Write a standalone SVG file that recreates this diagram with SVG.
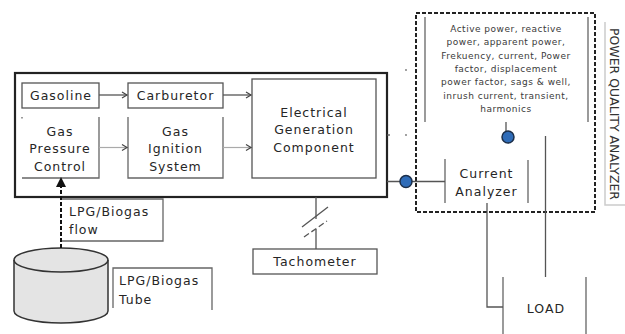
<svg xmlns="http://www.w3.org/2000/svg" width="625" height="334" viewBox="0 0 625 334">
<style>
  .t{font-family:"DejaVu Sans","Liberation Sans",sans-serif;font-size:12.5px;fill:#262626;letter-spacing:1px}
  .s{font-family:"DejaVu Sans","Liberation Sans",sans-serif;font-size:9px;fill:#3a3a3a;letter-spacing:0.5px}
  .v{font-family:"DejaVu Sans","Liberation Sans",sans-serif;font-size:11.5px;fill:#333}
  .box{fill:none;stroke:#555;stroke-width:1.3}
  .br{fill:none;stroke:#666;stroke-width:1.3}
  .lt{fill:none;stroke:#aaa;stroke-width:1.2}
  .ln{fill:none;stroke:#555;stroke-width:1.3}
  .dot{fill:#2f6cb8;stroke:#1c2f4a;stroke-width:1.5}
</style>
<defs>
  <marker id="open" markerWidth="8" markerHeight="8" refX="6" refY="4" orient="auto" markerUnits="userSpaceOnUse">
    <path d="M1,1 L6,4 L1,7" fill="none" stroke="#444" stroke-width="1.2"/>
  </marker>
</defs>

<g id="main-system">
  <rect x="15" y="73" width="372" height="124" fill="none" stroke="#222" stroke-width="2.2"/>
</g>

<g id="gasoline">
  <rect class="box" x="22" y="83" width="77" height="25"/>
  <text class="t" x="61" y="100" text-anchor="middle">Gasoline</text>
</g>
<g id="carburetor">
  <rect class="box" x="128" y="83" width="95" height="25"/>
  <text class="t" x="175.5" y="100" text-anchor="middle">Carburetor</text>
</g>
<g id="gas-pressure-control">
  <path class="br" d="M22,117 v1.5 M99,117 V178 H22"/>
  <text class="t" x="60" y="135.5" text-anchor="middle">Gas</text>
  <text class="t" x="60" y="153" text-anchor="middle">Pressure</text>
  <text class="t" x="60" y="170.5" text-anchor="middle">Control</text>
</g>
<g id="gas-ignition-system">
  <path class="br" d="M128,117 V178 H223 V117"/>
  <text class="t" x="175.5" y="135.5" text-anchor="middle">Gas</text>
  <text class="t" x="175.5" y="153" text-anchor="middle">Ignition</text>
  <text class="t" x="175.5" y="170.5" text-anchor="middle">System</text>
</g>
<g id="electrical-generation">
  <rect class="box" x="252" y="79" width="124" height="99"/>
  <text class="t" x="314" y="116.5" text-anchor="middle">Electrical</text>
  <text class="t" x="314" y="133.5" text-anchor="middle">Generation</text>
  <text class="t" x="314" y="151.5" text-anchor="middle">Component</text>
</g>

<g id="lpg-flow-label">
  <path class="br" d="M62,199 H163 V241 H62"/>
  <text class="t" x="69" y="216">LPG/Biogas</text>
  <text class="t" x="69" y="234">flow</text>
</g>
<g id="lpg-tube">
  <path d="M14,260 V311 A47,12 0 0 0 108,311 V260 A47,12 0 0 0 14,260 Z" fill="#e4e4e4" stroke="#333" stroke-width="1.5"/>
  <path d="M14,260 A47,12 0 0 0 108,260" fill="none" stroke="#333" stroke-width="1.5"/>
</g>
<g id="lpg-tube-label">
  <path class="br" d="M113,308 V268 H212 V310"/>
  <text class="t" x="119" y="285">LPG/Biogas</text>
  <text class="t" x="119" y="304">Tube</text>
</g>
<g id="tachometer">
  <rect class="box" x="253" y="249" width="124" height="25"/>
  <text class="t" x="315" y="266" text-anchor="middle">Tachometer</text>
</g>

<g id="power-quality-analyzer">
  <rect x="416" y="13" width="179" height="199" fill="none" stroke="#222" stroke-width="2" stroke-dasharray="4 2"/>
  <path d="M605,22 V205 H625" fill="none" stroke="#ccc" stroke-width="1.5"/>
  <text class="v" x="0" y="0" transform="translate(610,28) rotate(90)" textLength="172" lengthAdjust="spacingAndGlyphs">POWER QUALITY ANALYZER</text>
</g>
<g id="measurements">
  <path class="br" d="M425,17 V122 M588,17 V122"/>
  <text class="s" text-anchor="middle" x="506" y="31.5">Active power, reactive</text>
  <text class="s" text-anchor="middle" x="506" y="45">power, apparent power,</text>
  <text class="s" text-anchor="middle" x="506" y="58.5">Frekuency, current, Power</text>
  <text class="s" text-anchor="middle" x="506" y="71.5">factor, displacement</text>
  <text class="s" text-anchor="middle" x="506" y="85">power factor, sags &amp; well,</text>
  <text class="s" text-anchor="middle" x="506" y="98.5">inrush current, transient,</text>
  <text class="s" text-anchor="middle" x="506" y="111.5">harmonics</text>
</g>
<g id="current-analyzer">
  <path class="br" d="M445,159 V203 M528,160 V203"/>
  <text class="t" x="486.5" y="177.5" text-anchor="middle">Current</text>
  <text class="t" x="486.5" y="195.5" text-anchor="middle">Analyzer</text>
</g>
<g id="load">
  <path class="br" d="M503,277 V334 M586,277 V334"/>
  <text class="t" x="546" y="313" text-anchor="middle">LOAD</text>
</g>

<g id="connectors">
  <line class="ln" x1="99" y1="95" x2="127" y2="95" marker-end="url(#open)"/>
  <line class="ln" x1="223" y1="95" x2="251" y2="95" marker-end="url(#open)"/>
  <line class="lt" x1="99" y1="147.5" x2="127" y2="147.5" marker-end="url(#open)"/>
  <line class="lt" x1="223" y1="147.5" x2="251" y2="147.5" marker-end="url(#open)"/>
  <line x1="61" y1="248" x2="61" y2="186" stroke="#111" stroke-width="2" stroke-dasharray="4 2"/>
  <path d="M61,177 L56,187 L66,187 Z" fill="#111"/>
  <path class="ln" d="M316,197 V219 M316,229 V249"/>
  <line x1="302" y1="227" x2="328" y2="207" stroke="#555" stroke-width="1.3"/>
  <line x1="304" y1="237" x2="327" y2="221" stroke="#555" stroke-width="1.3" stroke-dasharray="6 3"/>
  <line class="ln" x1="387" y1="181.5" x2="445" y2="181.5"/>
  <circle class="dot" cx="406" cy="181.5" r="6"/>
  <line class="ln" x1="506" y1="122" x2="506" y2="131"/>
  <circle class="dot" cx="508" cy="137" r="6"/>
  <line class="ln" x1="545.5" y1="136" x2="545.5" y2="277"/>
  <path class="ln" d="M487,203 V307 H503"/>
  <circle cx="406" cy="70" r="0.9" fill="#777"/>
  <circle cx="406" cy="135" r="0.9" fill="#777"/>
  <line class="ln" x1="387" y1="135" x2="390" y2="135"/>
</g>
</svg>
